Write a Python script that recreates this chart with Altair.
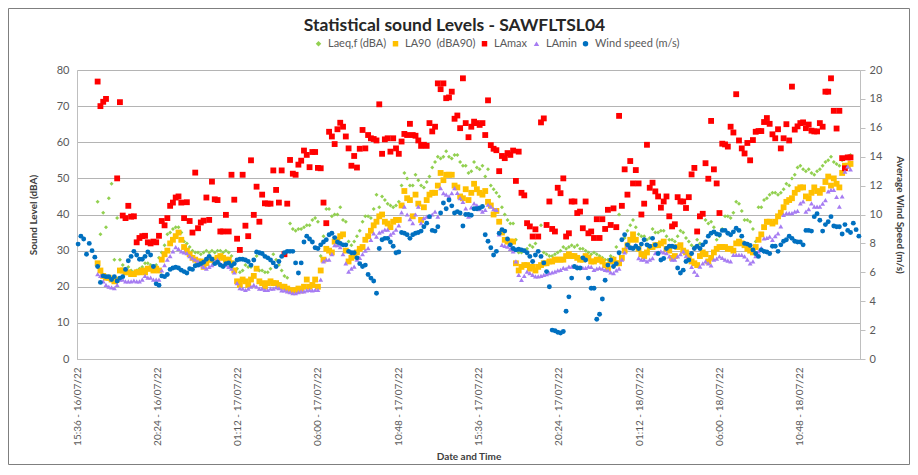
import altair as alt
import pandas as pd

# ---------------- data (10-minute records) ----------------
SOUND_START = "2022-07-16T16:50:00"
WIND_START = "2022-07-16T15:40:00"
STEP_MIN = 10

laeq = [
    43.5, 34.5, 40.5, 36.5, 44.5, 48.5, 27.5, 39, 27.5, 26,
    25, 25.5, 24.5, 24, 24.5, 25, 25.5, 26.5, 26.5, 26,
    25.5, 26, 28, 29.5, 31.5, 34.5, 35, 36, 36.5, 36.5,
    35, 32.5, 32, 31, 30, 29.5, 29.5, 29, 29.5, 30,
    29.5, 30, 29.5, 30, 30, 29.5, 30, 29.5, 28.5, 26.5,
    25, 24, 24.5, 26, 25.5, 25.5, 27.5, 28.5, 24.5, 24.5,
    24, 24, 25, 29, 27.5, 26, 24.5, 23, 22.5, 37.5,
    36, 35.5, 36, 36, 36.5, 37, 37, 38.5, 39, 38,
    28.5, 34, 41.5, 41.5, 39.5, 40, 40, 42, 38.5, 38,
    32.5, 31.5, 32.5, 34, 35.5, 38, 39.5, 39.5, 39, 41.5,
    45.5, 42, 45, 44, 43, 42.5, 42, 42.5, 43.5, 48,
    51.5, 50, 48, 48, 51, 49.5, 48, 47.5, 49, 50.5,
    53, 54.5, 56, 55.5, 56, 57.5, 56, 55.5, 56.5, 56.5,
    54.5, 53.5, 53.5, 51.5, 52, 54.5, 53, 52.5, 53.5, 50.5,
    52.5, 48, 47, 46, 45, 42, 40, 38.5, 37.5, 37.5,
    33, 29.5, 29.5, 30, 30.5, 31.5, 31, 32, 34, 37,
    29.5, 29, 28.5, 28.5, 29, 29.5, 30, 31, 30.5, 31,
    31.5, 31, 31.5, 30.5, 30.5, 30, 29.5, 29, 29.5, 29,
    28.5, 28, 27.5, 27.5, 28.5, 28, 31, 40, 33, 33.5,
    35.5, 37, 38.5, 36.5, 34.5, 34, 34, 33, 33.5, 36,
    35, 35, 35.5, 35.5, 34, 33, 33, 32.5, 34, 35.5,
    35, 33.5, 32.5, 31.5, 31, 33, 32, 31.5, 38.5, 37.5,
    38, 36.5, 33, 34, 36, 39.5, 39.5, 39, 40.5, 43.5,
    43, 41, 38.5, 38.5, 38, 36, 32.5, 42, 42, 44,
    44.5, 45.5, 46, 46, 45.5, 46, 47, 48.5, 48, 50,
    51, 53, 53.5, 52.5, 52, 52.5, 51.5, 51, 52, 52.5,
    53.5, 54.5, 55, 56, 54.5, 54, 53.5, 55, 55.5, 56, 56.5,
]

la90 = [
    26.5, 24.5, 23, 22.5, 22.5, 22, 21.5, 22, 24.5, 24.5,
    24, 24, 23.5, 23.5, 24, 24, 24.5, 24, 25, 25,
    24.5, 25, 24.5, 27.5, 29, 30, 32, 33, 34, 35,
    33, 31, 30, 29, 28, 27.5, 27, 27, 25.5, 26.5,
    27.5, 27.5, 27, 28, 28.5, 28, 27.5, 27.5, 26.5, 24.5,
    21.5, 20.5, 22, 21.5, 20.5, 22, 23, 25, 21.5, 21,
    20, 21, 21.5, 21, 21, 20.5, 20, 20, 19.5, 19,
    19, 19, 19.5, 19, 20, 22, 20, 20.5, 22, 20,
    24.5, 27.5, 30.5, 30, 29.5, 32.5, 33, 34, 34.5, 30,
    27, 28, 28.5, 29.5, 30.5, 31, 33, 34, 35.5, 37,
    38, 39.5, 40, 38, 37.5, 36.5, 38, 38.5, 38.5, 42.5,
    46.5, 44.5, 44, 39.5, 45.5, 43, 38.5, 42, 44, 45.5,
    46, 46, 48, 51.5, 49.5, 51, 51, 51, 48, 47.5,
    45, 44.5, 47, 44, 46, 48.5, 47, 46, 45.5, 46.5,
    43.5, 42.5, 40, 41, 38, 35, 33, 32.5, 32.5, 32.5,
    26.5, 24.5, 25.5, 26, 26, 25, 25.5, 24.5, 25.5, 26,
    26.5, 26.5, 27, 27, 27.5, 27.5, 27.5, 27.5, 28.5, 29,
    28.5, 28.5, 28, 27.5, 27.5, 28.5, 28, 27, 27, 27.5,
    27.5, 27, 26, 25, 27, 27.5, 26.5, 26.5, 28, 30,
    31.5, 33, 34.5, 33, 30.5, 29, 28.5, 29.5, 31, 31,
    31.5, 31.5, 32, 32.5, 30.5, 30, 28, 28.5, 31, 31.5,
    30, 29.5, 28.5, 27, 26.5, 26, 28.5, 29.5, 29, 27,
    28, 29.5, 30.5, 31, 31, 31, 30.5, 30.5, 30, 32,
    32.5, 32, 31.5, 30.5, 30, 29.5, 31, 33, 34.5, 36.5,
    38, 38, 37.5, 38, 39.5, 40.5, 42, 43.5, 44, 44.5,
    46, 47, 47.5, 47.5, 45, 44.5, 46, 47.5, 46.5, 46,
    47, 49, 50.5, 48, 50, 48.5, 47.5, 51.5, 53.5, 53.5, 54,
]

lamax = [
    76.8, 70, 71.2, 72, None, None, None, 50, 71.1, 39.7,
    39, 42.4, 39.4, 39.5, 32.3, 33.5, 34, 34.1, 32.3, 32,
    32.5, 32.3, 34.1, 38.2, 37, 39, 42.4, 43.3, 44.7, 45,
    43.3, 39, 43.4, 38.2, 35, 51.6, 36.2, 37.8, 38.3, 44.7,
    38.5, 49.1, 44.2, 44, 35.3, 35.3, 39.9, 35.3, 51, 44.1,
    33.3, 30.2, 51, 36.9, 34, 55, 39.9, 47.7, 38, 45.5,
    43.1, 43, 43, 52.2, 46.8, 43.3, 52.2, 29, 43, 55.1,
    51.3, 51, 53.8, 54.9, 57.7, 56.5, 53.1, 57.3, 57.3, 52.9,
    52.8, 43.3, 37.6, 62.9, 61.6, 59.5, 63.6, 65.4, 64.3, 61.6,
    58.3, 53.5, 56.2, 53, 58.2, 63.4, 58.3, 62, 61.1, 60.9,
    60.5, 70.5, 56.8, 60.8, 61.1, 57.4, 61.1, 58.3, 56.8, 60.2,
    62.3, 62, 65.1, 62, 61.8, 60.5, 59, 59.3, 59, 65.3,
    63, 64.3, 76.3, 74.7, 76.3, 72.2, 72.4, 74, 66.5, 67.4,
    63.9, 77.7, 65.3, 61.4, 64.3, 65.7, 65.3, 64.8, 65.3, 62,
    71.6, 59.2, 58.2, 57.8, 52, 56.2, 55.6, 57, 56.5, 57.7,
    49.3, 57.4, 46, 45.3, 37.6, 36.7, 33.9, 35.9, 33.9, 65.5,
    66.6, 37.1, 43.6, 36, 35.3, 47.4, 45.9, 50, 33.9, 34.8,
    43.6, 43.6, 40.4, 40.8, 36.2, 43.6, 34.8, 35.3, 33.5, 38.7,
    33.5, 38.7, 36, 41.3, 37.1, 41.7, 36.5, 67.3, 42.4, 52.5,
    45.5, 54.8, 48.6, 52.3, 48.6, 40, 43, 59.3, 47.4, 48.8,
    46.4, 45, 41.9, 43.6, 45, 39.5, 36.7, 37.3, 44.8, 43.6,
    43.6, 41.8, 44.8, 51.1, 52.9, 35.3, 39.5, 40.2, 54.2, 49.9,
    65.9, 52.5, 48.6, 40.4, 59.6, 59.4, 58.8, 64.3, 62.7, 73.3,
    60.5, 58.3, 56.9, 59.8, 55, 60.6, 62.9, 63.1, 63.1, 65.6,
    66.7, 65.1, 62.2, 61.1, 63.6, 58.3, 61.1, 65, 60.5, 75.4,
    63.5, 64.4, 65.3, 65.5, 63.9, 64.9, 63.2, 63, 63, 65.3,
    64.3, 74, 74, 77.7, 68.7, 63.8, 68.7, 55.6, 52.8, 55.8, 55.8,
]

lamin = [
    23.5, 23, 21.5, 20.5, 20, 19.8, 19.6, 20.5, 22, 22,
    21.5, 21.5, 21.5, 21.7, 21.5, 21.5, 22, 23, 22.5, 22.5,
    22, 22, 22, 24.5, 26, 27.5, 28.5, 29.8, 31, 30.5,
    29.8, 29.5, 29.3, 28.5, 27.9, 27.5, 27, 26, 25.5, 25,
    25.5, 26, 27, 27.5, 26.5, 26, 26, 25.5, 25, 24,
    21, 19.6, 19.5, 19.1, 19.5, 20, 20.5, 20, 19.5, 19.5,
    19.1, 19.1, 19.5, 19.5, 19.8, 19.6, 19, 19, 18.7, 18.5,
    18.2, 18.2, 18.5, 18.7, 18.7, 19, 19.1, 19, 19.1, 19.1,
    22, 27, 27.5, 27.5, 29, 31.5, 31.5, 31, 29, 26.5,
    24.2, 25, 25.6, 27.5, 28, 29, 30, 30.7, 33, 34.8,
    33.9, 35, 35.3, 35.8, 35.8, 34.4, 35, 35.8, 37, 40.6,
    42.2, 40, 38.7, 37.6, 40, 42.2, 37.6, 39, 39.4, 39.4,
    40, 40.8, 39.4, 47.3, 45.9, 45.5, 45, 45.9, 47.3, 46,
    44.5, 43.5, 41.7, 39.4, 42, 43.1, 42.5, 41.5, 40.8, 41.3,
    42.7, 42.2, 41.5, 41.3, 34.5, 31.6, 31.3, 31.1, 30.5, 29.8,
    27, 23.3, 21.9, 23, 24.2, 23.8, 23.3, 22.9, 22.9, 23,
    23.3, 23.5, 23.8, 24, 24.2, 24.5, 24.7, 25.2, 25, 25.6,
    25.6, 25.6, 25.6, 25.2, 25.2, 25.2, 25.6, 25.5, 24.7, 25,
    25.2, 25, 24.7, 24.5, 24, 23.8, 24.5, 25, 27.5, 29.5,
    31.1, 30.7, 31, 31.6, 27.9, 27.5, 27.5, 27, 27.5, 27.9,
    29.3, 29.5, 29.8, 29.5, 29.3, 28.4, 27.5, 27.5, 28.4, 29,
    29.8, 28.5, 27.5, 25.5, 24.2, 23.3, 25.6, 26.5, 27, 26.5,
    25.9, 27.5, 27.8, 28.4, 28, 27.5, 27.2, 27, 28.8, 28.8,
    28.8, 28.8, 28.4, 27.5, 26.5, 27, 28.5, 29.8, 30.7, 33.4,
    33.5, 33.9, 33, 34, 34.8, 36.7, 39.9, 40.4, 40.4, 40.4,
    40.8, 41, 43.1, 43.6, 40.8, 41.5, 43.1, 42.2, 42.2, 42.2,
    43, 44, 46.4, 46.8, 46.8, 44.9, 42.2, 45, 51.9, 53.3, 52.5,
]

wind = [
    7.95, 8.5, 8.3, 7.25, 8.0, 7.5, 7.05, 6.4, 5.3, 5.75,
    5.7, 5.7, 5.5, 5.7, 5.4, 5.6, 5.7, 6.2, 6.8, 7.1,
    7.45, 7.2, 6.9, 6.9, 7.1, 7.4, 7.2, 6.4, 5.2, 5.1,
    5.75, 5.7, 5.85, 6.2, 6.3, 6.35, 6.3, 6.15, 6.05, 5.95,
    6.25, 6.2, 6.45, 6.5, 6.6, 6.7, 6.9, 7.1, 6.9, 6.6,
    6.7, 6.5, 6.4, 6.6, 6.65, 6.45, 6.6, 6.85, 6.9, 6.9,
    6.85, 6.75, 6.5, 6.85, 7.4, 7.35, 7.3, 7.1, 7.0, 6.85,
    6.65, 6.4, 6.75, 7.1, 7.35, 7.45, 7.45, 7.45, 6.65, 5.95,
    6.65, 8.1, 8.5, 8.3, 8.1, 7.7, 7.65, 7.9, 8.1, 8.25,
    8.6, 8.7, 8.4, 8.1, 8.0, 7.9, 7.9, 7.45, 7.35, 7.35,
    7.0, 6.6, 6.4, 6.5, 5.85, 5.6, 5.4, 4.55, 7.65, 8.25,
    8.35, 8.35, 8.1, 7.8, 7.35, 7.4, 8.75, 8.7, 8.6, 8.35,
    8.6, 8.7, 8.75, 8.85, 9.15, 9.4, 9.85, 8.9, 8.85, 9.15,
    10.1, 10.8, 10.4, 11.0, 10.6, 10.1, 10.2, 10.1, 9.2, 10.0,
    10.0, 9.95, 10.4, 10.4, 10.45, 10.55, 8.6, 8.15, 7.7, 7.2,
    7.45, 8.7, 8.95, 8.85, 8.3, 7.9, 7.65, 7.55, 7.6, 7.55,
    7.5, 7.35, 7.1, 6.75, 7.2, 7.45, 7.1, 6.65, 6.05, 5.0,
    2.0, 1.95, 1.85, 1.8, 1.9, 3.3, 4.3, 5.6, 6.4, 6.3,
    6.3, 7.0, 6.85, 5.6, 4.9, 4.9, 2.75, 3.1, 4.15, 5.45,
    6.5, 6.85, 6.4, 6.6, 7.35, 8.25, 8.6, 7.9, 7.7, 7.65,
    7.8, 7.65, 7.95, 8.25, 7.9, 7.8, 8.35, 7.9, 7.3, 6.85,
    6.95, 7.65, 7.8, 7.8, 7.75, 6.3, 5.95, 6.15, 6.75, 6.85,
    7.3, 7.65, 7.8, 7.65, 7.9, 8.1, 8.5, 8.7, 8.8, 8.65,
    8.6, 8.9, 8.9, 8.7, 8.6, 8.8, 9.05, 8.9, 8.5, 8.0,
    7.95, 7.85, 7.55, 7.3, 7.1, 7.55, 7.45, 7.4, 7.3, 7.8,
    7.8, 7.45, 7.9, 8.15, 8.25, 8.5, 8.35, 8.15, 8.1, 8.1,
    7.9, 8.9, 8.9, 8.85, 9.85, 10.05, 9.6, 8.85, 9.3, 9.5,
    9.85, 9.2, 9.15, 9.15, 8.65, 9.3, 8.9, 8.75, 9.4, 8.95, 8.5,
]

series_names = ["Laeq,f (dBA)", "LA90\u00a0\u00a0(dBA90)", "LAmax", "LAmin", "Wind speed (m/s)"]
series_colors = ["#92D050", "#FFC000", "#FF0000", "#A67CF2", "#0070C0"]
series_shapes = ["diamond", "square", "square", "triangle-up", "circle"]
series_sizes = [16, 34, 34, 24, 24]

tick_times = [
    "2022-07-16T15:36", "2022-07-16T20:24", "2022-07-17T01:12", "2022-07-17T06:00",
    "2022-07-17T10:48", "2022-07-17T15:36", "2022-07-17T20:24", "2022-07-18T01:12",
    "2022-07-18T06:00", "2022-07-18T10:48",
]
x_domain = ["2022-07-16T15:36", "2022-07-18T14:24"]
left_ticks = [0, 10, 20, 30, 40, 50, 60, 70, 80]
right_ticks = [0, 2, 4, 6, 8, 10, 12, 14, 16, 18, 20]

# ---------------- build table ----------------
rows = []
t0 = pd.Timestamp(SOUND_START)
for name, vals in zip(series_names[:4], [laeq, la90, lamax, lamin]):
    for i, v in enumerate(vals):
        if v is None:
            continue
        rows.append({"time": (t0 + pd.Timedelta(minutes=STEP_MIN * i)).strftime("%Y-%m-%dT%H:%M:%S"),
                     "series": name, "level": v})
tw = pd.Timestamp(WIND_START)
for j, v in enumerate(wind):
    rows.append({"time": (tw + pd.Timedelta(minutes=STEP_MIN * j)).strftime("%Y-%m-%dT%H:%M:%S"),
                 "series": series_names[4], "wind": v})
df = pd.DataFrame(rows)


def dt(s):
    t = pd.Timestamp(s)
    return alt.DateTime(year=t.year, month=t.month, date=t.day, hours=t.hour, minutes=t.minute)


FONT = "Lato"
GRID = "#B4B4B4"
AXC = "#BFBFBF"
LBL = "#595959"
TTL = "#404040"

W, H = 783, 289
PAD = {"left": 69, "top": 62, "right": 50, "bottom": 106}

color_scale = alt.Scale(domain=series_names, range=series_colors)
shape_scale = alt.Scale(domain=series_names, range=series_shapes)
legend = alt.Legend(orient="none", legendX=236, legendY=-32, direction="horizontal", title=None,
                    labelFont=FONT, labelFontSize=11, labelColor=LBL, symbolSize=30,
                    columnPadding=3, labelOffset=4, symbolStrokeWidth=0)

x_enc = alt.X("time:T",
              scale=alt.Scale(domain=[dt(x_domain[0]), dt(x_domain[1])]),
              axis=alt.Axis(values=[dt(s) for s in tick_times], format="%H:%M - %d/%m/%y",
                            labelAngle=270, labelFont=FONT, labelFontSize=10, labelColor=LBL,
                            labelPadding=8, ticks=False, grid=False, domainColor=AXC,
                            title="Date and Time", titleFont=FONT, titleFontSize=10,
                            titleFontWeight="bold", titleColor=TTL, titlePadding=6))

y_left = alt.Y("level:Q", scale=alt.Scale(domain=[0, 80], nice=False),
               axis=alt.Axis(orient="left", values=left_ticks, title="Sound Level (dBA)",
                             titleFont=FONT, titleFontSize=10, titleFontWeight="bold",
                             titleColor=TTL, titlePadding=18, labelFont=FONT, labelFontSize=11,
                             labelColor=LBL, labelPadding=8, ticks=False, domainColor=AXC,
                             grid=True, gridColor=GRID, gridWidth=1))

y_right = alt.Y("wind:Q", scale=alt.Scale(domain=[0, 20], nice=False),
                axis=alt.Axis(orient="right", values=right_ticks, title="Average Wind Speed (m/s)",
                              titleFont=FONT, titleFontSize=10, titleFontWeight="bold",
                              titleColor=TTL, titlePadding=13, labelFont=FONT, labelFontSize=11,
                              labelColor=LBL, labelPadding=4, ticks=True, tickSize=5,
                              tickColor=AXC, domainColor=AXC, grid=False))

base = alt.Chart(df)


def sound_layer(k):
    return base.transform_filter(alt.datum.series == series_names[k]).mark_point(
        filled=True, opacity=1, size=series_sizes[k], strokeWidth=0
    ).encode(
        x=x_enc, y=y_left,
        color=alt.Color("series:N", scale=color_scale, legend=legend),
        shape=alt.Shape("series:N", scale=shape_scale, legend=legend),
    )


sound = alt.layer(*[sound_layer(k) for k in range(4)])

wind_layer = base.transform_filter(alt.datum.series == series_names[4]).mark_point(
    filled=True, opacity=1, size=series_sizes[4], strokeWidth=0
).encode(
    x=x_enc, y=y_right,
    color=alt.Color("series:N", scale=color_scale, legend=legend),
    shape=alt.Shape("series:N", scale=shape_scale, legend=legend),
)

# thin frame round the whole chart area (decoration, like the spreadsheet chart border)
frame = alt.Chart(pd.DataFrame({"f": [0]})).mark_rect(
    fill=None, stroke="#7F7F7F", strokeWidth=1
).encode(
    x=alt.value(-PAD["left"] + 0.5), x2=alt.value(W + PAD["right"] - 0.5),
    y=alt.value(-PAD["top"] + 0.5), y2=alt.value(H + PAD["bottom"] - 0.5),
)

chart = alt.layer(sound, wind_layer, frame).resolve_scale(y="independent").properties(
    width=W, height=H,
    title=alt.Title("Statistical sound Levels - SAWFLTSL04", font=FONT, fontSize=17.5,
                    fontWeight="bold", color="#262626", anchor="middle", dx=-14, offset=-26),
    padding=PAD,
    autosize=alt.AutoSizeParams(type="none"),
).configure_view(stroke=None).configure(background="white")

chart.save("out.html", embed_options={"renderer": "svg", "actions": False})
